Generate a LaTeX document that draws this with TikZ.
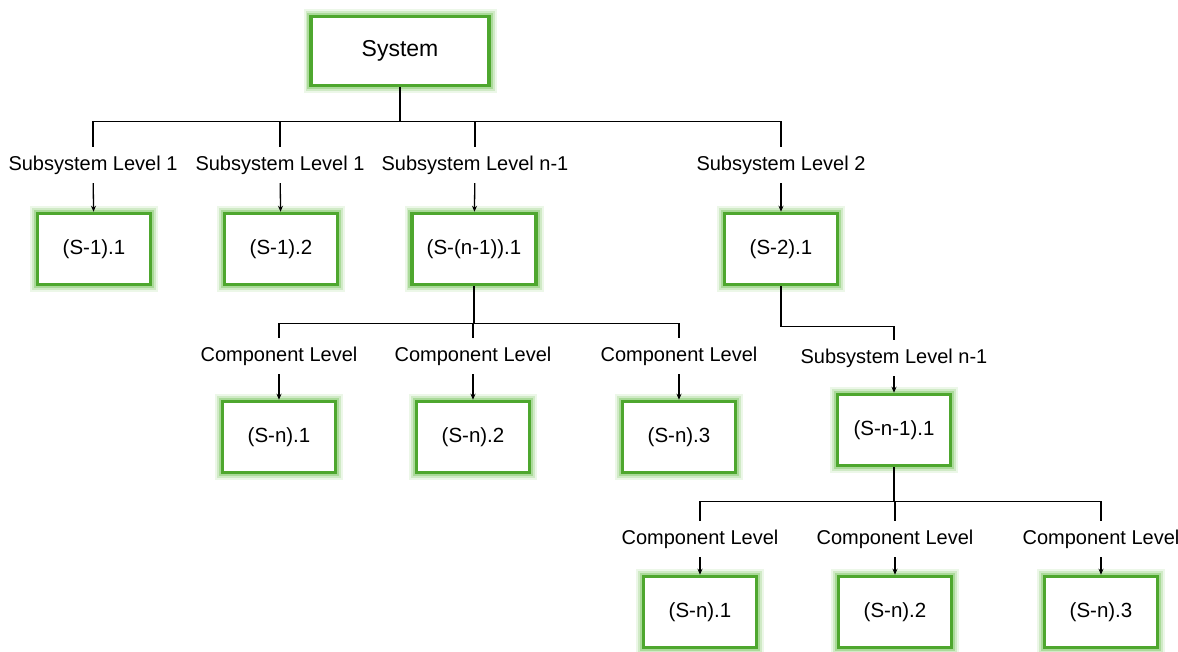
\documentclass[tikz,border=0pt]{standalone}
\usepackage{fontspec}
\setmainfont{Liberation Sans}
\usetikzlibrary{arrows.meta}

\definecolor{boxgreen}{RGB}{78,167,46}
\definecolor{glowgreen}{RGB}{125,198,98}

\begin{document}
\begin{tikzpicture}[x = 1pt, y = -1pt,
    unit/.style = {draw = boxgreen, line width = 3.5pt, fill = white, minimum width = 113pt, minimum height = 71pt, inner sep = 2pt, font = \fontsize{20.5}{24}\selectfont,
                   preaction = {draw = glowgreen, line width = 15pt, opacity = .15},
                   preaction = {draw = glowgreen, line width = 11pt, opacity = .25},
                   preaction = {draw = glowgreen, line width = 7.5pt, opacity = .45}},
    level/.style = {fill = white, minimum height = 36pt, inner sep = 1pt, font = \fontsize{20}{24}\selectfont},
    link/.style = {line width = 1.3pt},
    down/.style = {link, -{Stealth[length = 6pt, width = 5pt]}}]
  \useasboundingbox (0,0) rectangle (1178,652);

  % top
  \node[unit, minimum width = 178pt, minimum height = 69pt, font = \fontsize{23}{27}\selectfont] (sys) at (400,51) {System};

  % subsystems, first level
  \node[level] (l11) at (93,165) {Subsystem Level 1};
  \node[level] (l12) at (280,165) {Subsystem Level 1};
  \node[level] (l1n) at (475,165) {Subsystem Level n-1};
  \node[level] (l21) at (781,165) {Subsystem Level 2};
  \node[unit] (s11) at (94,249) {(S-1).1};
  \node[unit] (s12) at (281,249) {(S-1).2};
  \node[unit, minimum width = 124pt] (s1n) at (474,249) {(S-(n-1)).1};
  \node[unit] (s21) at (781,249) {(S-2).1};

  % components under (S-(n-1)).1
  \node[level] (lc1) at (279,356) {Component Level};
  \node[level] (lc2) at (473,356) {Component Level};
  \node[level] (lc3) at (679,356) {Component Level};
  \node[unit] (c1) at (279,437) {(S-n).1};
  \node[unit] (c2) at (473,437) {(S-n).2};
  \node[unit] (c3) at (679,437) {(S-n).3};

  % under (S-2).1
  \node[level] (lsn) at (894,358) {Subsystem Level n-1};
  \node[unit] (sn) at (894,430) {(S-n-1).1};
  \node[level] (ld1) at (700,539) {Component Level};
  \node[level] (ld2) at (895,539) {Component Level};
  \node[level] (ld3) at (1101,539) {Component Level};
  \node[unit] (d1) at (700,612) {(S-n).1};
  \node[unit] (d2) at (895,612) {(S-n).2};
  \node[unit] (d3) at (1101,612) {(S-n).3};

  % connectors
  \foreach \l in {l11, l12, l1n, l21}
    \draw[link] (sys.south) -- ++(0,34) -| (\l.north);
  \foreach \l in {lc1, lc2, lc3}
    \draw[link] (s1n.south) -- ++(0,37) -| (\l.north);
  \draw[link] (s21.south) -- ++(0,40) -| (lsn.north);
  \foreach \l in {ld1, ld2, ld3}
    \draw[link] (sn.south) -- ++(0,34) -| (\l.north);
  \foreach \l/\b in {l11/s11, l12/s12, l1n/s1n, l21/s21, lc1/c1, lc2/c2, lc3/c3, lsn/sn, ld1/d1, ld2/d2, ld3/d3}
    \draw[down] (\l) -- (\b);
\end{tikzpicture}
\end{document}
